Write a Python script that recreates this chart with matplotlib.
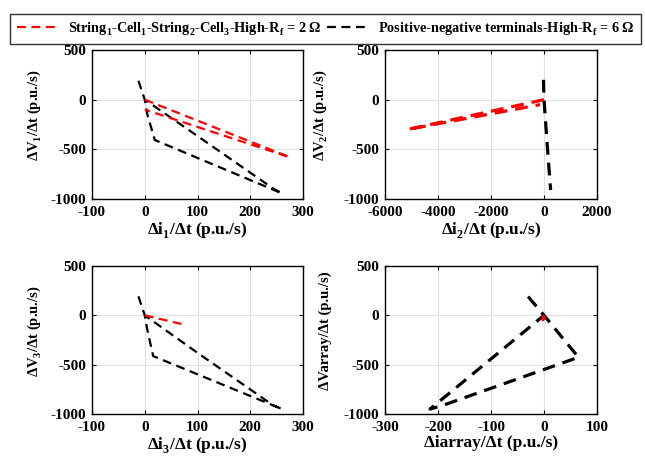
import matplotlib
matplotlib.use("Agg")
import matplotlib.pyplot as plt
from matplotlib.lines import Line2D

try:
    import matplotlib._mathtext as _mt
    _mt.FontConstantsBase.sub1 = 0.55
    _mt.FontConstantsBase.sub2 = 0.75
except Exception:
    pass

plt.rcParams['font.family'] = ['Liberation Serif', 'DejaVu Serif']
plt.rcParams['font.weight'] = 'bold'
plt.rcParams['mathtext.fontset'] = 'custom'
plt.rcParams['mathtext.rm'] = 'Liberation Serif:bold'
plt.rcParams['mathtext.it'] = 'Liberation Serif:bold'
plt.rcParams['mathtext.bf'] = 'Liberation Serif:bold'
plt.rcParams['mathtext.default'] = 'rm'
plt.rcParams['axes.unicode_minus'] = False

# ---- data ----
legend_labels = [r'String$_1$-Cell$_1$-String$_2$-Cell$_3$-High-R$_f$ = 2 Ω',
                 r'Positive-negative terminals-High-R$_f$ = 6 Ω']

# panel 1: dV1/dt vs di1/dt
p1_red_x = [0, 275, 0]
p1_red_y = [0, -580, -100]
p1_blk_x = [-12, 0, 5, 19, 260, 243, 100, 0]
p1_blk_y = [190, 0, -150, -406, -943, -893, -366, 0]

# panel 2: dV2/dt vs di2/dt
p2_red_x = [0, -5150, -150]
p2_red_y = [0, -300, -50]
p2_blk_x = [-20, 0, 120, 250]
p2_blk_y = [200, 0, -450, -910]

# panel 3: dV3/dt vs di3/dt
p3_red_x = [0, 70]
p3_red_y = [0, -88]
p3_blk_x = [-12, 0, 5, 16, 260, 244, 100, 0]
p3_blk_y = [193, 0, -150, -413, -949, -914, -380, 0]

# panel 4: dV/dt array vs di/dt array
p4_red_x = [0, -2, 0]
p4_red_y = [0, -45, -10]
p4_blk_x = [-30, 0, 65, -190, -215, 0]
p4_blk_y = [190, 0, -425, -911, -950, 0]

xlabels = [r'Δi$_1$/Δt (p.u./s)', r'Δi$_2$/Δt (p.u./s)',
           r'Δi$_3$/Δt (p.u./s)', 'Δiarray/Δt (p.u./s)']
ylabels = [r'ΔV$_1$/Δt (p.u./s)', r'ΔV$_2$/Δt (p.u./s)',
           r'ΔV$_3$/Δt (p.u./s)', 'ΔVarray/Δt (p.u./s)']
xlims = [(-100, 300), (-6000, 2000), (-100, 300), (-300, 100)]
xticks = [[-100, 0, 100, 200, 300], [-6000, -4000, -2000, 0, 2000],
          [-100, 0, 100, 200, 300], [-300, -200, -100, 0, 100]]
yticks = [500, 0, -500, -1000]

reds = [(p1_red_x, p1_red_y), (p2_red_x, p2_red_y), (p3_red_x, p3_red_y), (p4_red_x, p4_red_y)]
blks = [(p1_blk_x, p1_blk_y), (p2_blk_x, p2_blk_y), (p3_blk_x, p3_blk_y), (p4_blk_x, p4_blk_y)]

fig = plt.figure(figsize=(6.45, 4.66), dpi=100)
W, H = 645, 466
boxes = [(92, 50, 303, 199), (385, 50, 597, 199), (92, 266, 303, 414), (385, 266, 597, 414)]
ylab_x = [35, 321, 35, 325]

for i, (l, t, r, b) in enumerate(boxes):
    ax = fig.add_axes([l / W, (H - b) / H, (r - l) / W, (b - t) / H])
    lw = 1.6 if i % 2 == 0 else 2.3
    ax.plot(*blks[i], color='black', ls=(0, (4, 2.5)), lw=lw)
    ax.plot(*reds[i], color='red', ls=(0, (4, 2.5)), lw=lw)
    ax.set_xlim(*xlims[i])
    ax.set_ylim(-1000, 500)
    ax.set_xticks(xticks[i])
    ax.set_yticks(yticks)
    ax.grid(True, color='#e0e0e0', lw=0.8)
    ax.set_axisbelow(True)
    ax.tick_params(direction='in', top=True, right=True, labelsize=11, length=3)
    ax.tick_params(axis='x', pad=5)
    ax.tick_params(axis='y', pad=4)
    for lab in ax.get_xticklabels() + ax.get_yticklabels():
        lab.set_fontweight('bold')
    for s in ax.spines.values():
        s.set_linewidth(1.0)
    ax.set_xlabel(xlabels[i], fontsize=12.5, fontweight='bold', labelpad=1)
    ax.set_ylabel(ylabels[i], fontsize=10.5, fontweight='bold', va='center')
    ax.yaxis.set_label_coords((ylab_x[i] - l) / (r - l), 0.56)

handles = [Line2D([], [], color='red', ls=(0, (4, 2.5)), lw=1.6),
           Line2D([], [], color='black', ls=(0, (4, 2.5)), lw=1.6)]
leg = fig.legend(handles, legend_labels, loc='center', ncol=2,
                 bbox_to_anchor=(325.5 / W, 1 - 29 / H), frameon=True, fancybox=False,
                 edgecolor='black', handlelength=3.0, handletextpad=0.55,
                 columnspacing=0.4, borderpad=0.45, prop={'weight': 'bold', 'size': 10.3})
leg.get_frame().set_linewidth(1.0)

fig.savefig('out.png', dpi=100)
